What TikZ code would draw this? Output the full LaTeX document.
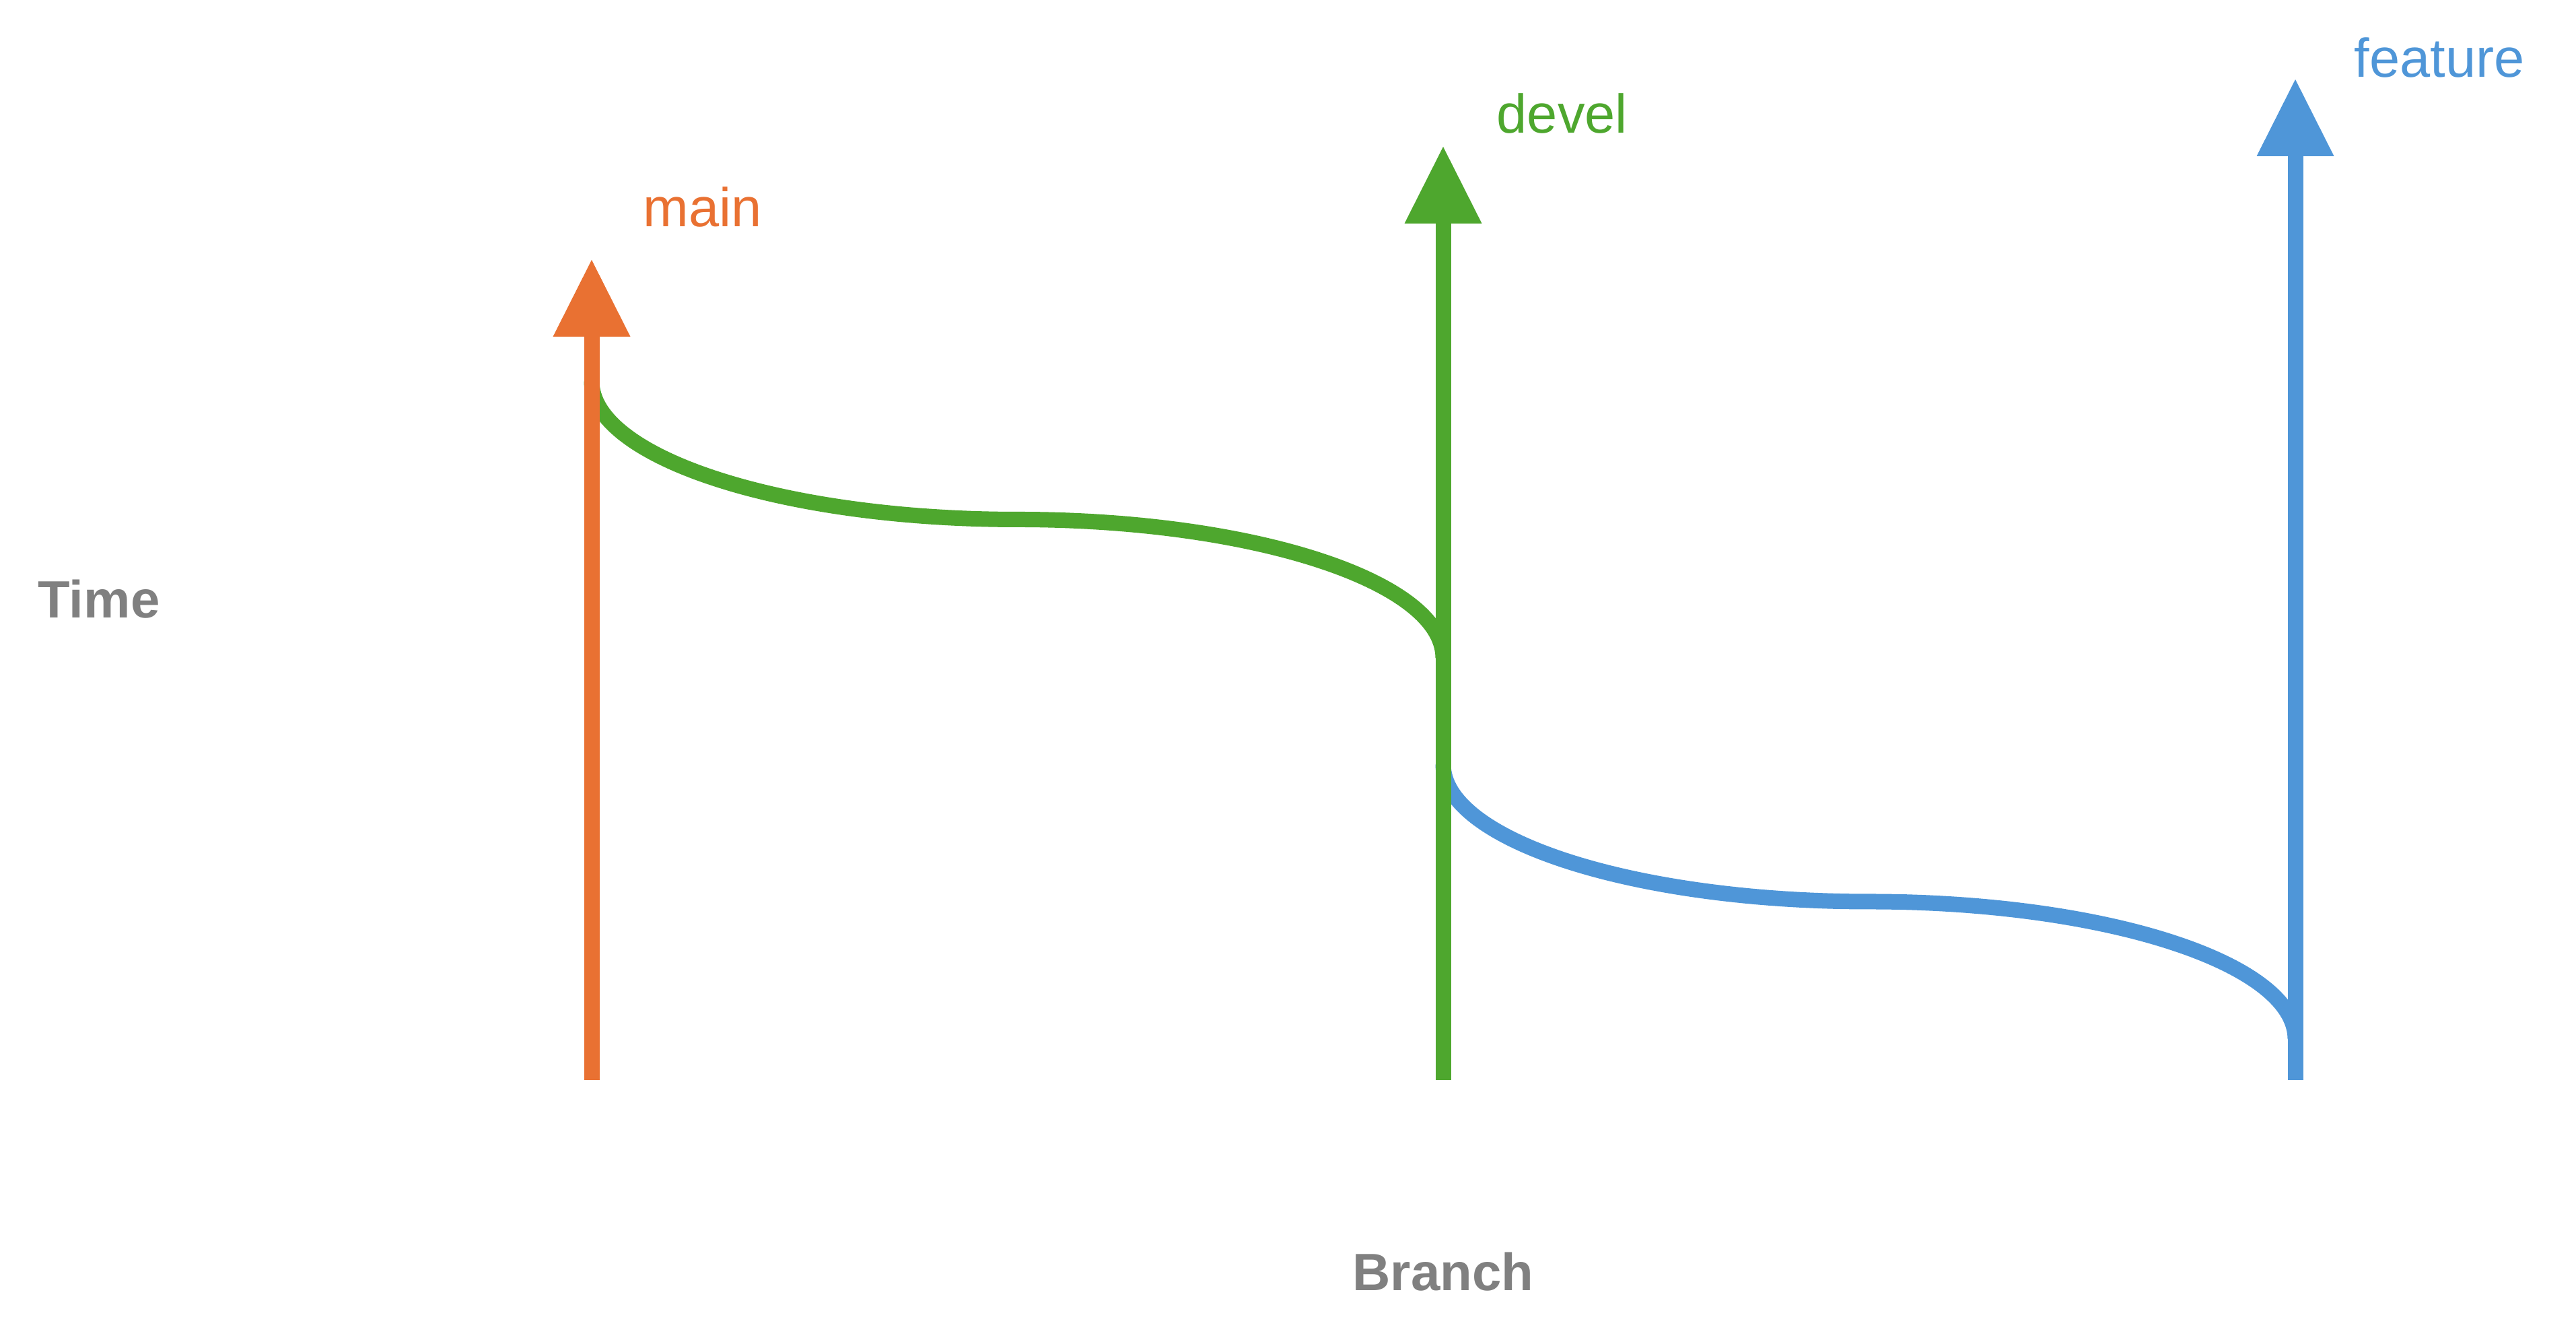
\documentclass[tikz,border=0pt]{standalone}
\usepackage{fontspec}
\setmainfont{Liberation Sans}
\usetikzlibrary{positioning,arrows.meta}
\definecolor{mainorange}{HTML}{E97132}
\definecolor{develgreen}{HTML}{4EA72E}
\definecolor{featblue}{HTML}{4F96D8}
\definecolor{axisgray}{HTML}{808080}

\begin{document}
\begin{tikzpicture}[
	branchline/.style={line width=0.23cm,-{Triangle[length=1.14cm,width=1.15cm,line width=0pt]}},
	mergeline/.style={line width=0.23cm},
	brlabel/.style={anchor=base west,inner sep=0pt,font=\fontsize{23.1}{28}\selectfont},
	axlabel/.style={inner sep=0pt,text=axisgray,font=\bfseries\fontsize{22.2}{27}\selectfont}]
	\useasboundingbox (0,0) rectangle (38.27,19.93);
	% branch ends
	\coordinate (m0) at (8.79,3.89);
	\coordinate (m1) at (8.79,16.07);
	\coordinate (d0) at (21.44,3.89);
	\coordinate (d1) at (21.44,17.75);
	\coordinate (f0) at (34.10,3.89);
	\coordinate (f1) at (34.10,18.75);
	% fork points
	\coordinate (g0) at (8.79,14.27);
	\coordinate (g1) at (15.115,12.215);
	\coordinate (g2) at (21.44,10.16);
	\coordinate (b0) at (21.44,8.58);
	\coordinate (b1) at (27.77,6.54);
	\coordinate (b2) at (34.10,4.50);
	
	\draw[mergeline,develgreen] (g0) .. controls +(0,-1.135) and +(-3.493,0) .. (g1) .. controls +(3.493,0) and +(0,1.135) .. (g2);
	\draw[mergeline,featblue] (b0) .. controls +(0,-1.127) and +(-3.496,0) .. (b1) .. controls +(3.496,0) and +(0,1.127) .. (b2);
	
	\draw[branchline,mainorange] (m0)--(m1);
	\draw[branchline,develgreen] (d0)--(d1);
	\draw[branchline,featblue] (f0)--(f1);
	
	\node[brlabel,text=mainorange] (lmain) at (9.55,16.56) {main};
	\node[brlabel,text=develgreen] (ldevel) at (22.23,17.95) {devel};
	\node[brlabel,text=featblue] (lfeat) at (34.97,18.78) {feature};
	
	\node[axlabel,anchor=base west] (time) at (0.56,10.75) {Time};
	\node[axlabel,anchor=base] (branch) at (21.44,0.76) {Branch};
\end{tikzpicture}
\end{document}
